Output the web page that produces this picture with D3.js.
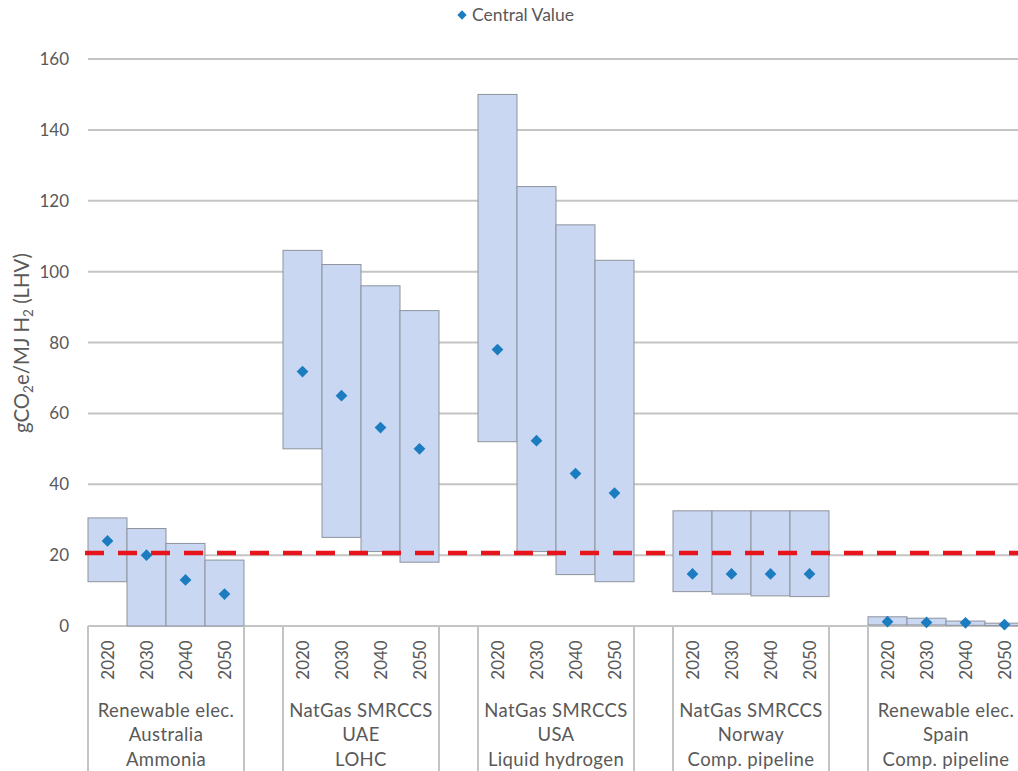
<!DOCTYPE html>
<html>
<head>
<meta charset="utf-8">
<script src="https://cdn.jsdelivr.net/npm/d3@7"></script>
<style>
  html, body { margin: 0; padding: 0; background: #fff; }
  svg { display: block; font-family: Lato, "Open Sans", sans-serif; }
</style>
</head>
<body>
<svg id="chart" width="1018" height="771"></svg>
<script>
// ---- data ----
const groupLabels = [
  ["Renewable elec.", "Australia", "Ammonia"],
  ["NatGas SMRCCS", "UAE", "LOHC"],
  ["NatGas SMRCCS", "USA", "Liquid hydrogen"],
  ["NatGas SMRCCS", "Norway", "Comp. pipeline"],
  ["Renewable elec.", "Spain", "Comp. pipeline"]
];
const years = ["2020", "2030", "2040", "2050"];
// per group, per year
const lowValues = [
  [12.5, 0, 0, 0],
  [50, 25, 21, 18],
  [52, 21, 14.5, 12.5],
  [9.7, 9, 8.5, 8.3],
  [0.3, 0.3, 0.2, 0.1]
];
const highValues = [
  [30.5, 27.5, 23.3, 18.6],
  [106, 102, 96, 89],
  [150, 124, 113.2, 103.2],
  [32.5, 32.5, 32.5, 32.5],
  [2.6, 2.2, 1.4, 0.8]
];
const centralValues = [
  [24, 20, 13, 9],
  [71.8, 65, 56, 50],
  [78, 52.3, 43, 37.5],
  [14.7, 14.7, 14.7, 14.7],
  [1.2, 1.0, 0.9, 0.4]
];
const thresholdValue = 20.6;
const yTicks = [0, 20, 40, 60, 80, 100, 120, 140, 160];
const legendLabel = "Central Value";

// ---- layout ----
const svg = d3.select("#chart");
const mLeft = 88, mTop = 59, mBottom = 626, slotW = 39;

// slots: 4 years per group + one empty slot between groups
const slots = [];
groupLabels.forEach((g, gi) => {
  years.forEach(yr => slots.push(`g${gi}-${yr}`));
  if (gi < groupLabels.length - 1) slots.push(`gap${gi}`);
});
const x = d3.scaleBand().domain(slots).range([mLeft, mLeft + slots.length * slotW]).padding(0);
const y = d3.scaleLinear().domain([0, 160]).range([mBottom, mTop]);

const records = [];
groupLabels.forEach((g, gi) => years.forEach((yr, yi) => records.push({
  key: `g${gi}-${yr}`, year: yr, gi,
  low: lowValues[gi][yi], high: highValues[gi][yi], central: centralValues[gi][yi]
})));

const textCol = "#595959";
const gridCol = "#c4c4c4";

// gridlines
svg.append("g").selectAll("line").data(yTicks).join("line")
  .attr("x1", mLeft).attr("x2", 1018)
  .attr("y1", d => y(d)).attr("y2", d => y(d))
  .attr("stroke", gridCol).attr("stroke-width", 2);

// y tick labels
svg.append("g").selectAll("text").data(yTicks).join("text")
  .attr("x", 69).attr("y", d => y(d)).attr("dy", "0.36em")
  .attr("text-anchor", "end").attr("fill", textCol)
  .attr("font-size", 17).text(d => d);

// y axis title
const yt = svg.append("text")
  .attr("transform", `translate(29,343) rotate(-90)`)
  .attr("text-anchor", "middle").attr("fill", textCol).attr("font-size", 18);
yt.append("tspan").text("gCO");
yt.append("tspan").attr("font-size", 12).attr("dy", 4).text("2");
yt.append("tspan").attr("dy", -4).text("e/MJ H");
yt.append("tspan").attr("font-size", 12).attr("dy", 4).text("2");
yt.append("tspan").attr("dy", -4).text(" (LHV)");
// fit title length to the reference (~180px)
{
  const len = yt.node().getComputedTextLength();
  if (len > 0) {
    const k = 180 / len;
    yt.attr("font-size", 18 * k);
    yt.selectAll("tspan").each(function () {
      const fs = this.getAttribute("font-size");
      if (fs) this.setAttribute("font-size", fs * k);
    });
  }
}

// boxes
svg.append("g").selectAll("rect").data(records).join("rect")
  .attr("x", d => x(d.key)).attr("width", x.bandwidth())
  .attr("y", d => y(d.high)).attr("height", d => y(d.low) - y(d.high))
  .attr("fill", "#c9d7f3").attr("stroke", "#8e939c").attr("stroke-width", 1);

// axis separators
const groupEdges = [];
groupLabels.forEach((g, gi) => {
  groupEdges.push(x(`g${gi}-2020`));
  groupEdges.push(x(`g${gi}-2050`) + x.bandwidth());
});
svg.append("g").selectAll("line").data(groupEdges).join("line")
  .attr("x1", d => d).attr("x2", d => d)
  .attr("y1", mBottom).attr("y2", 771)
  .attr("stroke", gridCol).attr("stroke-width", 2);

// year labels
svg.append("g").selectAll("text").data(records).join("text")
  .attr("transform", d => `translate(${x(d.key) + x.bandwidth() / 2 + 6},660) rotate(-90)`)
  .attr("text-anchor", "middle").attr("fill", textCol).attr("font-size", 17)
  .text(d => d.year);

// group labels
groupLabels.forEach((g, gi) => {
  const cx = x(`g${gi}-2020`) + 2 * slotW;
  g.forEach((line, li) => {
    svg.append("text").attr("x", cx).attr("y", 710 + li * 24.8).attr("dy", "0.36em")
      .attr("text-anchor", "middle").attr("fill", textCol).attr("font-size", 18.5)
      .attr("letter-spacing", 0.4)
      .text(line);
  });
});

// threshold dashed line
svg.append("line")
  .attr("x1", 85).attr("x2", 1018)
  .attr("y1", y(thresholdValue)).attr("y2", y(thresholdValue))
  .attr("stroke", "#e8141c").attr("stroke-width", 4.5)
  .attr("stroke-dasharray", "19 14");

// central markers
const diamond = d3.symbol().type(d3.symbolDiamond2).size(88);
svg.append("g").selectAll("path").data(records).join("path")
  .attr("transform", d => `translate(${x(d.key) + x.bandwidth() / 2},${y(d.central)})`)
  .attr("d", diamond).attr("fill", "#1b7dc0");

// legend
const lg = svg.append("g").attr("transform", "translate(462,15)");
lg.append("path").attr("d", d3.symbol().type(d3.symbolDiamond2).size(55)).attr("fill", "#1b7dc0");
lg.append("text").attr("x", 10).attr("dy", "0.36em").attr("fill", textCol)
  .attr("font-size", 17.5).text(legendLabel);
</script>
</body>
</html>
